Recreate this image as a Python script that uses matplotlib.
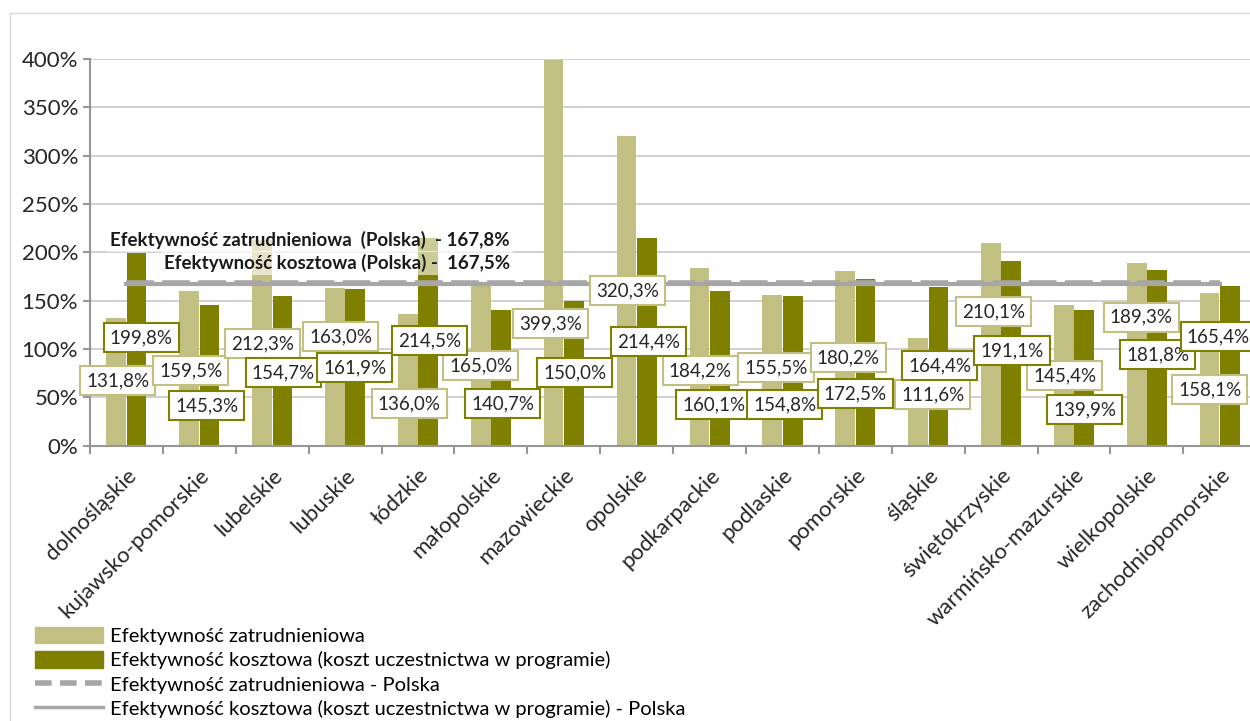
import numpy as np
import matplotlib.pyplot as plt
from matplotlib.patches import Rectangle, Patch
from matplotlib.lines import Line2D
from matplotlib.ticker import FuncFormatter, MultipleLocator

plt.rcParams['font.family'] = ['Lato', 'DejaVu Sans']

# dane
wojewodztwa = ['dolnośląskie', 'kujawsko-pomorskie', 'lubelskie', 'lubuskie', 'łódzkie',
               'małopolskie', 'mazowieckie', 'opolskie', 'podkarpackie', 'podlaskie',
               'pomorskie', 'śląskie', 'świętokrzyskie', 'warmińsko-mazurskie',
               'wielkopolskie', 'zachodniopomorskie']
ef_zatr = [131.8, 159.5, 212.3, 163.0, 136.0, 165.0, 399.3, 320.3,
           184.2, 155.5, 180.2, 111.6, 210.1, 145.4, 189.3, 158.1]
ef_koszt = [199.8, 145.3, 154.7, 161.9, 214.5, 140.7, 150.0, 214.4,
            160.1, 154.8, 172.5, 164.4, 191.1, 139.9, 181.8, 165.4]
polska_zatr = 167.8
polska_koszt = 167.5

# polozenie etykiet (przesuniecie w osi x, wysokosc w %)
lab_zatr_dx = [-0.12, -0.12, -0.13, -0.06, -0.12, -0.14, -0.18, -0.12,
               -0.13, -0.09, -0.10, 0.06, -0.10, -0.13, -0.08, -0.14]
lab_zatr_y = [66.9, 77.3, 105.2, 112.4, 43.1, 82.4, 126.4, 160.0,
              77.3, 80.4, 90.8, 52.4, 138.3, 72.1, 133.0, 57.6]
lab_koszt_dx = [0.20, 0.10, 0.15, 0.13, 0.16, 0.16, 0.15, 0.16,
                0.06, 0.03, 0.00, 0.16, 0.15, 0.15, 0.15, -0.02]
lab_koszt_y = [111.4, 41.1, 75.2, 80.4, 108.3, 43.1, 75.2, 107.3,
               42.1, 42.1, 53.5, 82.4, 98.0, 36.9, 93.9, 112.4]

c_jasny = '#C2BF82'
c_ciemny = '#808000'
c_szary = '#A6A6A6'

fig = plt.figure(figsize=(12.5, 7.21), dpi=100)
fig.patches.append(Rectangle((0.008, -0.1), 1.1, 1.082, transform=fig.transFigure,
                             fill=False, edgecolor='#D9D9D9', lw=1))
ax = fig.add_axes([0.072, 0.382, 0.933, 0.536])

x = np.arange(len(wojewodztwa))
w = 0.27
ax.bar(x - w / 2 - 0.005, ef_zatr, w, color=c_jasny, zorder=2)
ax.bar(x + w / 2 + 0.005, ef_koszt, w, color=c_ciemny, zorder=2)
ax.plot(x, [polska_koszt] * len(x), color=c_szary, lw=3, zorder=3)
ax.plot(x, [polska_zatr] * len(x), color=c_szary, lw=4, ls=(0, (5, 1.5)), zorder=3)

for i in x:
    ax.text(i + lab_zatr_dx[i], lab_zatr_y[i], f'{ef_zatr[i]:.1f}%'.replace('.', ','),
            ha='center', va='center', fontsize=13.5, color='#262626', zorder=5,
            bbox=dict(boxstyle='square,pad=0.32', fc='white', ec=c_jasny, lw=1.5))
    ax.text(i + lab_koszt_dx[i], lab_koszt_y[i], f'{ef_koszt[i]:.1f}%'.replace('.', ','),
            ha='center', va='center', fontsize=13.5, color='#262626', zorder=6,
            bbox=dict(boxstyle='square,pad=0.32', fc='white', ec=c_ciemny, lw=1.5))

ax.text(5.26, 212.8, 'Efektywność zatrudnieniowa  (Polska)  - 167,8%', ha='right', va='center',
        fontsize=13.5, fontweight='bold', color='#1a1a1a', zorder=4,
        bbox=dict(boxstyle='square,pad=0.15', fc='white', ec='none', alpha=0.6))
ax.text(5.26, 189.0, 'Efektywność kosztowa (Polska) -  167,5%', ha='right', va='center',
        fontsize=13.5, fontweight='bold', color='#1a1a1a', zorder=4,
        bbox=dict(boxstyle='square,pad=0.15', fc='white', ec='none', alpha=0.6))

ax.set_xlim(-0.5, len(x) - 0.5)
ax.set_ylim(0, 400)
ax.yaxis.set_major_locator(MultipleLocator(50))
ax.yaxis.set_major_formatter(FuncFormatter(lambda v, p: f'{v:.0f}%'))
ax.grid(axis='y', color='#C8C8C8', lw=1.2, zorder=0)
ax.set_axisbelow(True)
for s in ['top', 'right']:
    ax.spines[s].set_visible(False)
for s in ['left', 'bottom']:
    ax.spines[s].set_color('#969696')
    ax.spines[s].set_linewidth(1.5)

ax.set_xticks(x)
ax.set_xticklabels(wojewodztwa, rotation=45, ha='right', rotation_mode='anchor',
                   fontsize=16, color='#262626')
ax.tick_params(axis='x', which='major', length=0, pad=14)
ax.set_xticks(np.arange(-0.5, len(x), 1), minor=True)
ax.tick_params(axis='x', which='minor', length=6, color='#969696', width=1.5)
ax.tick_params(axis='y', length=5, color='#969696', width=1.5, labelsize=16,
               labelcolor='#262626')

handles = [Patch(color=c_jasny), Patch(color=c_ciemny),
           Line2D([], [], color=c_szary, lw=4, ls=(0, (3, 1.5))),
           Line2D([], [], color=c_szary, lw=2.5)]
labels = ['Efektywność zatrudnieniowa',
          'Efektywność kosztowa (koszt uczestnictwa w programie)',
          'Efektywność zatrudnieniowa - Polska',
          'Efektywność kosztowa (koszt uczestnictwa w programie) - Polska']
fig.legend(handles, labels, loc='upper left', bbox_to_anchor=(0.028, 0.131), frameon=False,
           fontsize=14.5, handlelength=3.4, handleheight=0.9, handletextpad=0.3,
           labelspacing=0.3, borderpad=0, borderaxespad=0)

fig.savefig('out.png', dpi=100)
